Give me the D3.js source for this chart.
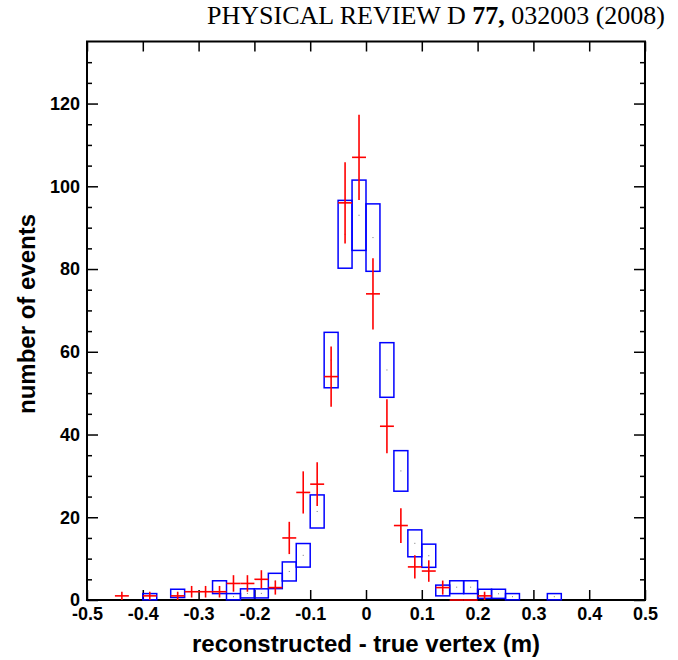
<!DOCTYPE html>
<html>
<head>
<meta charset="utf-8">
<script src="https://cdn.jsdelivr.net/npm/d3@7/dist/d3.min.js"></script>
<style>
  body { margin: 0; background: #fff; }
  .tick text { font-family: "Liberation Sans", Arial, sans-serif; font-weight: bold; font-size: 18px; fill: #000; }
  .tick line { stroke: #000; stroke-width: 1.5; }
</style>
</head>
<body>
<svg></svg>
<script>
const width = 678, height = 660;
const margin = { top: 41.5, right: 33, bottom: 60, left: 87 };
const innerWidth = width - margin.left - margin.right;
const innerHeight = height - margin.top - margin.bottom;

// lower edge of each 0.025 m bin
const binLow = [
  -0.5, -0.475, -0.45, -0.425, -0.4, -0.375, -0.35, -0.325, -0.3, -0.275,
  -0.25, -0.225, -0.2, -0.175, -0.15, -0.125, -0.1, -0.075, -0.05, -0.025,
  0, 0.025, 0.05, 0.075, 0.1, 0.125, 0.15, 0.175, 0.2, 0.225,
  0.25, 0.275, 0.3, 0.325, 0.35, 0.375, 0.4, 0.425, 0.45, 0.475
];
const binWidth = 0.025;

// data (red crosses), null = nothing drawn
const dataCounts = [
  null, null, 1, null, 1, null, 1, 2, 2, 2,
  4, 4, 5, 3, 15, 26, 28, 54, 96, 107,
  74, 42, 18, 8, 7, 3, 0, 0, 1, null,
  null, null, null, null, null, null, null, null, null, null
];
const dataErrors = [
  0, 0, 1, 0, 1, 0, 1, 1.4, 1.4, 1.4,
  2, 2, 2.2, 1.7, 3.9, 5.1, 5.3, 7.3, 9.8, 10.3,
  8.6, 6.5, 4.2, 2.8, 2.6, 1.7, 0, 0, 1, 0,
  0, 0, 0, 0, 0, 0, 0, 0, 0, 0
];

// simulation (blue boxes)
const mcValues = [
  0, 0, 0, 0, 0.8, 0, 1.6, 0, 0, 3.1,
  0.8, 1.6, 1.6, 4.6, 6.9, 10.8, 21.4, 58, 88.4, 93,
  87.6, 55.6, 31.2, 13.7, 10.7, 2.3, 3.1, 3.1, 1.5, 1.5,
  0.8, 0, 0, 0.8, 0, 0, 0, 0, 0, 0
];
const mcErrors = [
  0, 0, 0, 0, 0.75, 0, 1.0, 0, 0, 1.55,
  0.75, 1.1, 1.1, 1.85, 2.3, 2.85, 4.0, 6.7, 8.2, 8.5,
  8.15, 6.6, 4.9, 3.25, 2.8, 1.3, 1.55, 1.55, 1.1, 1.1,
  0.75, 0, 0, 0.75, 0, 0, 0, 0, 0, 0
];

const xTicks = [-0.5, -0.4, -0.3, -0.2, -0.1, 0, 0.1, 0.2, 0.3, 0.4, 0.5];
const yTicks = [0, 20, 40, 60, 80, 100, 120];
const yMinorTicks = [5, 10, 15, 25, 30, 35, 45, 50, 55, 65, 70, 75, 85, 90, 95, 105, 110, 115, 125, 130];

const svg = d3.select("svg")
    .attr("width", width)
    .attr("height", height);

svg.append("text")
    .attr("x", 665)
    .attr("y", 24)
    .attr("text-anchor", "end")
    .style("font-family", "'Liberation Serif', 'Times New Roman', serif")
    .style("font-size", "26px")
    .html('PHYSICAL REVIEW D <tspan font-weight="bold">77,</tspan> 032003 (2008)');

const g = svg.append("g")
    .attr("transform", `translate(${margin.left},${margin.top})`);

const xScale = d3.scaleLinear().domain([-0.5, 0.5]).range([0, innerWidth]);
const yScale = d3.scaleLinear().domain([0, 135]).range([innerHeight, 0]);

const fmtX = d => d === 0 ? "0" : d3.format(".1f")(d).replace("\u2212", "-");

// axes, ticks pointing inward
g.append("g")
    .attr("transform", `translate(0,${innerHeight})`)
    .call(d3.axisBottom(xScale).tickValues(xTicks).tickSize(-10).tickPadding(7).tickFormat(fmtX));
g.append("g")
    .call(d3.axisTop(xScale).tickValues(xTicks).tickSize(-10).tickFormat(""));
g.append("g")
    .call(d3.axisLeft(yScale).tickValues(yTicks).tickSize(-11).tickPadding(7));
g.append("g")
    .call(d3.axisLeft(yScale).tickValues(yMinorTicks).tickSize(-5).tickFormat(""));
g.append("g")
    .attr("transform", `translate(${innerWidth},0)`)
    .call(d3.axisRight(yScale).tickValues(yTicks).tickSize(-11).tickFormat(""));
g.append("g")
    .attr("transform", `translate(${innerWidth},0)`)
    .call(d3.axisRight(yScale).tickValues(yMinorTicks).tickSize(-5).tickFormat(""));
g.selectAll(".domain").remove();
g.selectAll(".tick text").filter(function () { return this.textContent === ""; }).remove();

g.append("rect")
    .attr("width", innerWidth)
    .attr("height", innerHeight)
    .attr("fill", "none")
    .attr("stroke", "#000")
    .attr("stroke-width", 2);

const bins = binLow.map((lo, i) => ({
  lo, hi: lo + binWidth, mid: lo + binWidth / 2,
  n: dataCounts[i], nErr: dataErrors[i],
  mc: mcValues[i], mcErr: mcErrors[i]
}));

// MC boxes
g.append("g").selectAll("rect")
    .data(bins)
    .join("rect")
    .attr("x", d => xScale(d.lo))
    .attr("width", d => xScale(d.hi) - xScale(d.lo))
    .attr("y", d => yScale(d.mc + d.mcErr))
    .attr("height", d => yScale(Math.max(0, d.mc - d.mcErr)) - yScale(d.mc + d.mcErr))
    .attr("fill", "none")
    .attr("stroke", "#0000ff")
    .attr("stroke-width", 1.5);

g.append("g").selectAll("rect")
    .data(bins.filter(d => d.mc > 0))
    .join("rect")
    .attr("x", d => xScale(d.mid) - 0.5)
    .attr("y", d => yScale(d.mc) - 0.5)
    .attr("width", 1)
    .attr("height", 1)
    .attr("fill", "#777");

// data crosses
const dataBins = bins.filter(d => d.n !== null);
const cross = g.append("g")
    .attr("stroke", "#ff0000")
    .attr("stroke-width", 1.6);

cross.selectAll(".hbar")
    .data(dataBins)
    .join("line")
    .attr("class", "hbar")
    .attr("x1", d => xScale(d.lo))
    .attr("x2", d => xScale(d.hi))
    .attr("y1", d => yScale(d.n))
    .attr("y2", d => yScale(d.n));

cross.selectAll(".vbar")
    .data(dataBins.filter(d => d.n > 0))
    .join("line")
    .attr("class", "vbar")
    .attr("x1", d => xScale(d.mid))
    .attr("x2", d => xScale(d.mid))
    .attr("y1", d => yScale(d.n + d.nErr))
    .attr("y2", d => yScale(Math.max(0, d.n - d.nErr)));

// axis titles
svg.append("text")
    .attr("x", margin.left + innerWidth / 2)
    .attr("y", 652)
    .attr("text-anchor", "middle")
    .style("font-family", "'Liberation Sans', Arial, sans-serif")
    .style("font-weight", "bold")
    .style("font-size", "24px")
    .text("reconstructed - true vertex (m)");

svg.append("text")
    .attr("transform", `translate(35,314) rotate(-90)`)
    .attr("text-anchor", "middle")
    .style("font-family", "'Liberation Sans', Arial, sans-serif")
    .style("font-weight", "bold")
    .style("font-size", "24px")
    .text("number of events");
</script>
</body>
</html>
